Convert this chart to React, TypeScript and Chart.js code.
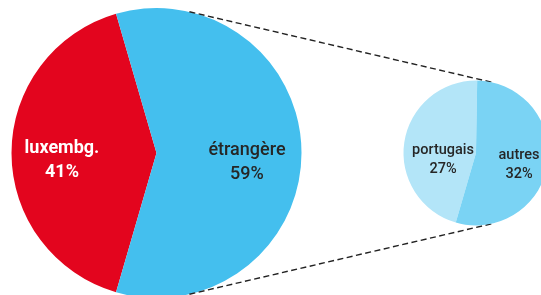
import React, { useEffect, useRef } from "react";
import { Chart, registerables } from "chart.js";

Chart.register(...registerables);

// ---- data ----
const mainLabels = ["luxembg.", "étrangère"];
const mainValues = [41, 59];
const subLabels = ["portugais", "autres"];
const subValues = [27, 32];

// ---- style ----
const mainColors = ["#E3051E", "#44BFEE"];
const subColors = ["#B3E5F8", "#7AD3F4"];
const W = 560;
const H = 306;

const sliceLabels = {
  id: "sliceLabels",
  afterDatasetsDraw(chart: any, _args: any, opts: any) {
    const ctx = chart.ctx;
    const meta = chart.getDatasetMeta(0);
    const labels = chart.data.labels as string[];
    const values = chart.data.datasets[0].data as number[];
    meta.data.forEach((arc: any, i: number) => {
      const p = arc.getProps(["x", "y", "startAngle", "endAngle", "outerRadius"], true);
      const mid = (p.startAngle + p.endAngle) / 2;
      const r = p.outerRadius * opts.radius[i];
      const px = p.x + Math.cos(mid) * r;
      const py = p.y + Math.sin(mid) * r + opts.shift[i];
      ctx.save();
      ctx.fillStyle = opts.colors[i];
      ctx.font = opts.fonts[i];
      ctx.textAlign = "center";
      ctx.textBaseline = "alphabetic";
      ctx.fillText(labels[i], px, py);
      ctx.fillText(values[i] + "%", px, py + opts.lineGap);
      ctx.restore();
    });
  },
};

export default function App() {
  const bigRef = useRef<HTMLCanvasElement>(null);
  const smallRef = useRef<HTMLCanvasElement>(null);

  useEffect(() => {
    document.body.style.margin = "0";
    const big = new Chart(bigRef.current!, {
      type: "pie",
      data: {
        labels: mainLabels,
        datasets: [{ data: mainValues, backgroundColor: mainColors, borderWidth: 0 }],
      },
      options: {
        responsive: false,
        animation: false,
        events: [],
        rotation: 196.2,
        layout: { padding: { left: 11.5, right: W - 301.5, top: 8, bottom: H - 298 } },
        plugins: {
          legend: { display: false },
          tooltip: { enabled: false },
          sliceLabels: {
            radius: [0.652, 0.624],
            shift: [0, 2],
            lineGap: 24,
            colors: ["#ffffff", "#262626"],
            fonts: ["bold 18px Roboto", "500 18px Roboto"],
          },
        } as any,
      },
      plugins: [sliceLabels],
    });

    const connector = {
      id: "connector",
      beforeDatasetsDraw(chart: any) {
        const a = big.getDatasetMeta(0).data[0] as any;
        const b = chart.getDatasetMeta(0).data[0] as any;
        if (!a || !b) return;
        const x1 = a.x, y1 = a.y, r1 = a.outerRadius;
        const x2 = b.x, y2 = b.y, r2 = b.outerRadius;
        const D = Math.hypot(x2 - x1, y2 - y1);
        const phi = Math.atan2(y2 - y1, x2 - x1);
        const alpha = Math.acos((r1 - r2) / D);
        const ctx = chart.ctx;
        ctx.save();
        ctx.strokeStyle = "#222";
        ctx.lineWidth = 1.4;
        ctx.setLineDash([6, 3.5]);
        [phi - alpha, phi + alpha].forEach((t) => {
          ctx.beginPath();
          ctx.moveTo(x1 + r1 * Math.cos(t), y1 + r1 * Math.sin(t));
          ctx.lineTo(x2 + r2 * Math.cos(t), y2 + r2 * Math.sin(t));
          ctx.stroke();
        });
        ctx.restore();
      },
    };

    const small = new Chart(smallRef.current!, {
      type: "pie",
      data: {
        labels: subLabels,
        datasets: [{ data: subValues, backgroundColor: subColors, borderWidth: 0 }],
      },
      options: {
        responsive: false,
        animation: false,
        events: [],
        rotation: 196.2,
        layout: { padding: { left: 403.5, right: W - 548.5, top: 80.5, bottom: H - 225.5 } },
        plugins: {
          legend: { display: false },
          tooltip: { enabled: false },
          sliceLabels: {
            radius: [0.46, 0.6],
            shift: [6, 0],
            lineGap: 18.5,
            colors: ["#262626", "#262626"],
            fonts: ["500 14.5px Roboto", "500 14.5px Roboto"],
          },
        } as any,
      },
      plugins: [sliceLabels, connector],
    });

    return () => {
      small.destroy();
      big.destroy();
    };
  }, []);

  const cStyle: React.CSSProperties = {
    position: "absolute",
    left: 0,
    top: 0,
    width: W,
    height: H,
  };

  return (
    <div
      style={{
        position: "fixed",
        left: 0,
        top: 0,
        width: 541,
        height: 295,
        overflow: "hidden",
        background: "#fff",
      }}
    >
      <canvas ref={bigRef} width={W} height={H} style={cStyle} />
      <canvas ref={smallRef} width={W} height={H} style={cStyle} />
    </div>
  );
}
